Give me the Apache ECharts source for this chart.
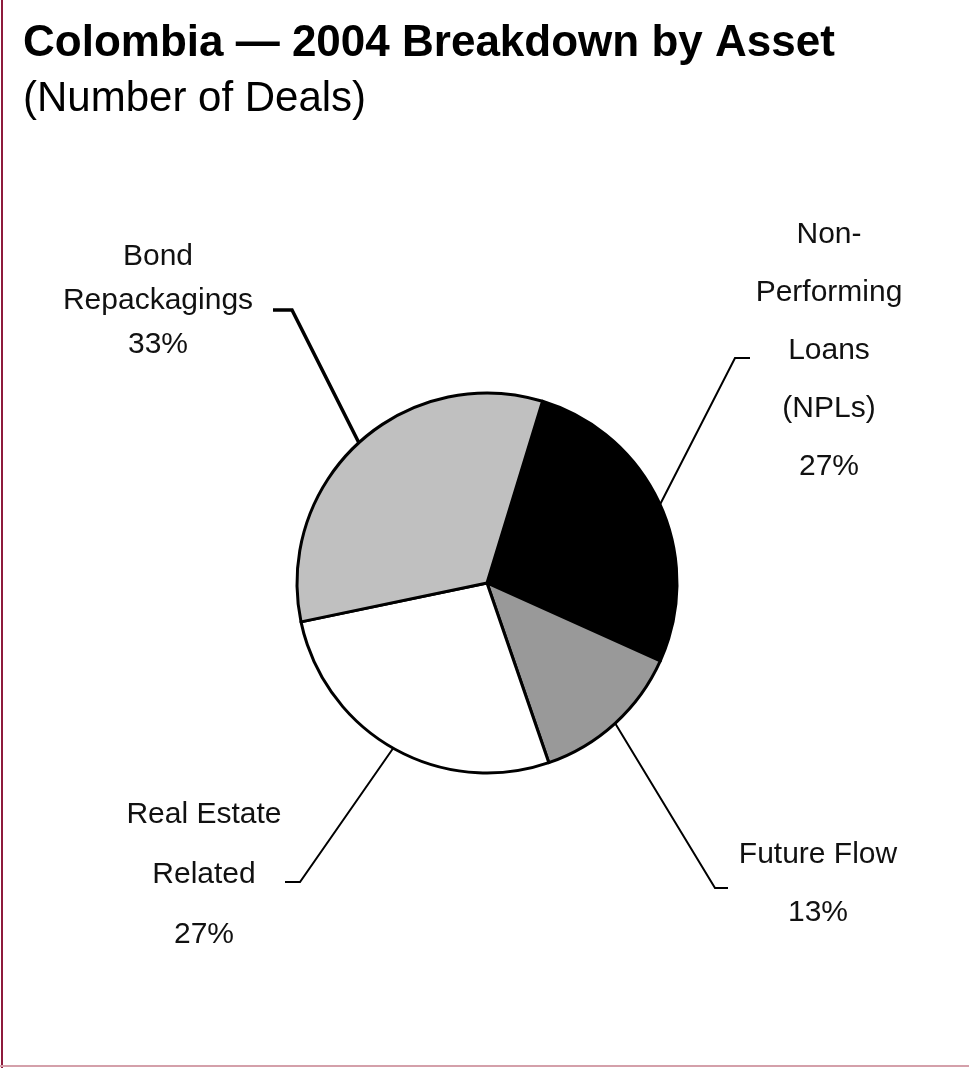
<!DOCTYPE html>
<html>
<head>
<meta charset="utf-8">
<style>
  html, body { margin: 0; padding: 0; background: #ffffff; }
  #chart { width: 969px; height: 1068px; }
</style>
<script src="https://cdn.jsdelivr.net/npm/echarts@6/dist/echarts.min.js"></script>
</head>
<body>
<div id="chart"></div>
<script>
// ---- data ----
const categories = ['Non-\nPerforming\nLoans\n(NPLs)', 'Future Flow', 'Real Estate\nRelated', 'Bond\nRepackagings'];
const shares = [27, 13, 27, 33];
const sliceColors = ['#000000', '#999999', '#ffffff', '#c0c0c0'];

// ---- label layout (annotation placement) ----
const labelSpec = [
  { x: 829, y: 351, lh: 58, elbow: [735, 358], end: [750, 358], lw: 2 },
  { x: 818, y: 884, lh: 58, elbow: [715, 888], end: [728, 888], lw: 2 },
  { x: 204, y: 875, lh: 60, elbow: [300, 882], end: [285, 882], lw: 2 },
  { x: 158, y: 301, lh: 44, elbow: [292, 310], end: [273, 310], lw: 3.5 }
];

const chart = echarts.init(document.getElementById('chart'), null, { renderer: 'canvas' });

const seriesData = categories.map((name, i) => ({
  name: name,
  value: shares[i],
  itemStyle: { color: sliceColors[i] },
  label: { lineHeight: labelSpec[i].lh },
  labelLine: { lineStyle: { width: labelSpec[i].lw } }
}));

chart.setOption({
  animation: false,
  backgroundColor: '#ffffff',
  title: [
    {
      text: 'Colombia \u2014 2004 Breakdown by Asset',
      left: 18, top: 17,
      textStyle: { fontFamily: 'Liberation Sans, Arial, sans-serif', fontWeight: 'bold', fontSize: 44, color: '#000' }
    },
    {
      text: '(Number of Deals)',
      left: 18, top: 73,
      textStyle: { fontFamily: 'Liberation Sans, Arial, sans-serif', fontWeight: 'normal', fontSize: 42, color: '#000' }
    }
  ],
  graphic: [
    { type: 'line', shape: { x1: 2, y1: 0, x2: 2, y2: 1068 }, style: { stroke: '#8e1a3c', lineWidth: 2 } },
    { type: 'line', shape: { x1: 0, y1: 1066, x2: 969, y2: 1066 }, style: { stroke: '#d4a0aa', lineWidth: 2 } }
  ],
  series: [{
    type: 'pie',
    center: [487, 583],
    radius: 190,
    startAngle: 73,
    clockwise: true,
    avoidLabelOverlap: false,
    itemStyle: { borderColor: '#000', borderWidth: 3 },
    emphasis: { disabled: true },
    label: {
      show: true,
      position: 'outside',
      formatter: p => p.name + '\n' + p.value + '%',
      fontFamily: 'Liberation Sans, Arial, sans-serif',
      fontSize: 30,
      color: '#111',
      align: 'center'
    },
    labelLine: { show: true, length: 10, length2: 10, lineStyle: { color: '#000' } },
    labelLayout: function (params) {
      const s = labelSpec[params.dataIndex];
      const start = params.labelLinePoints ? params.labelLinePoints[0] : [s.elbow[0], s.elbow[1]];
      return {
        x: s.x, y: s.y,
        align: 'center', verticalAlign: 'middle',
        labelLinePoints: [start, s.elbow, s.end]
      };
    },
    data: seriesData
  }]
});
</script>
</body>
</html>
